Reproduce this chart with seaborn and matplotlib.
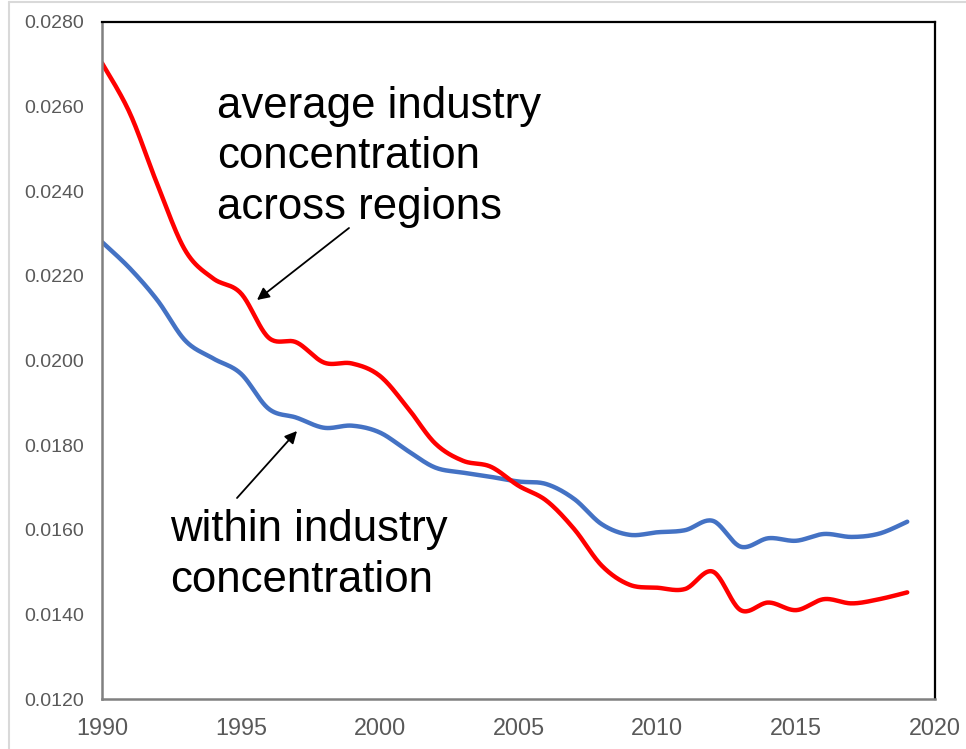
import numpy as np
import pandas as pd
import matplotlib
matplotlib.use("Agg")
import matplotlib.pyplot as plt
from matplotlib.lines import Line2D
import seaborn as sns

# ---- data ----
years = list(range(1990, 2020))
avg_industry = [0.02703, 0.02585, 0.02415, 0.02260, 0.02194, 0.02159, 0.02054, 0.02043,
                0.01995, 0.01993, 0.01964, 0.01889, 0.01804, 0.01763, 0.01749, 0.01704,
                0.01669, 0.01602, 0.01515, 0.01470, 0.01463, 0.01460, 0.01501, 0.01410,
                0.01428, 0.01410, 0.01436, 0.01426, 0.01436, 0.01452]
within_industry = [0.02280, 0.02218, 0.02142, 0.02047, 0.02005, 0.01969, 0.01886, 0.01865,
                   0.01841, 0.01846, 0.01830, 0.01787, 0.01747, 0.01735, 0.01725, 0.01714,
                   0.01708, 0.01673, 0.01613, 0.01588, 0.01594, 0.01599, 0.01621, 0.01560,
                   0.01580, 0.01574, 0.01590, 0.01583, 0.01591, 0.01619]
x_ticks = [1990, 1995, 2000, 2005, 2010, 2015, 2020]
y_ticks = [0.0120, 0.0140, 0.0160, 0.0180, 0.0200, 0.0220, 0.0240, 0.0260, 0.0280]
label_avg = ["average industry", "concentration", "across regions"]
label_within = ["within industry", "concentration"]


def smooth_curve(xs, ys, n=24):
    """Excel-style smoothed line rendering (Bezier through the points)."""
    xs = np.asarray(xs, float)
    ys = np.asarray(ys, float)
    P = np.column_stack([xs, ys])
    P_ext = np.vstack([P[0], P, P[-1]])
    out = []
    t = np.linspace(0, 1, n, endpoint=False)
    for i in range(len(P) - 1):
        p0, p1, p2, p3 = P_ext[i], P_ext[i + 1], P_ext[i + 2], P_ext[i + 3]
        c1 = p1 + (p2 - p0) / 6.0
        c2 = p2 - (p3 - p1) / 6.0
        tt = t[:, None]
        seg = ((1 - tt) ** 3) * p1 + 3 * ((1 - tt) ** 2) * tt * c1 + 3 * (1 - tt) * tt ** 2 * c2 + tt ** 3 * p2
        out.append(seg)
    out.append(P[-1][None, :])
    out = np.vstack(out)
    return out[:, 0], out[:, 1]


sns.set_theme(style="white")
plt.rcParams["font.family"] = ["Liberation Sans", "DejaVu Sans"]

W, H = 966, 749
fig = plt.figure(figsize=(W / 100, H / 100), dpi=100)
L, R, T, B = 102, 935, 22, 699
ax = fig.add_axes([L / W, 1 - B / H, (R - L) / W, (B - T) / H])

xr, yr = smooth_curve(years, avg_industry)
xb, yb = smooth_curve(years, within_industry)
df_r = pd.DataFrame({"year": xr, "value": yr})
df_b = pd.DataFrame({"year": xb, "value": yb})
sns.lineplot(data=df_b, x="year", y="value", ax=ax, color="#4472C4", linewidth=3.2,
             estimator=None, sort=False)
sns.lineplot(data=df_r, x="year", y="value", ax=ax, color="#FF0000", linewidth=3.2,
             estimator=None, sort=False)

ax.set_xlim(1990, 2020)
ax.set_ylim(0.0120, 0.0280)
ax.set_xticks(x_ticks)
ax.set_xticklabels([str(v) for v in x_ticks])
ax.set_yticks(y_ticks)
ax.set_yticklabels([f"{v:.4f}" for v in y_ticks])
ax.set_xlabel("")
ax.set_ylabel("")
ax.tick_params(axis="y", length=0, pad=13, labelsize=14, labelcolor="#595959")
ax.tick_params(axis="x", length=0, pad=13, labelsize=16.8, labelcolor="#595959")
ax.grid(False)

for side in ["top", "right"]:
    ax.spines[side].set_color("black")
    ax.spines[side].set_linewidth(1.6)
for side in ["left", "bottom"]:
    ax.spines[side].set_color("#808080")
    ax.spines[side].set_linewidth(1.8)


def fx(px):
    return px / W


def fy(py):
    return 1 - py / H


# annotation texts
for i, line in enumerate(label_avg):
    fig.text(fx(217), fy(118 + i * 50.5), line, fontsize=31.5, color="black",
             ha="left", va="baseline")
for i, line in enumerate(label_within):
    fig.text(fx(170), fy(541 + i * 50.5), line, fontsize=31.5, color="black",
             ha="left", va="baseline")

# arrows
ax.annotate("", xy=(fx(257), fy(300)), xycoords="figure fraction",
            xytext=(fx(349), fy(228)), textcoords="figure fraction",
            arrowprops=dict(arrowstyle="-|>", color="black", lw=1.3,
                            mutation_scale=18, shrinkA=0, shrinkB=0))
ax.annotate("", xy=(fx(297), fy(431)), xycoords="figure fraction",
            xytext=(fx(237), fy(498)), textcoords="figure fraction",
            arrowprops=dict(arrowstyle="-|>", color="black", lw=1.3,
                            mutation_scale=18, shrinkA=0, shrinkB=0))

# light chart-area frame (top and left)
fig.add_artist(Line2D([fx(9), 1], [fy(1.5), fy(1.5)], color="#d9d9d9", lw=1.5))
fig.add_artist(Line2D([fx(9), fx(9)], [0, fy(1.5)], color="#d9d9d9", lw=1.5))

fig.savefig("out.png", dpi=100)
